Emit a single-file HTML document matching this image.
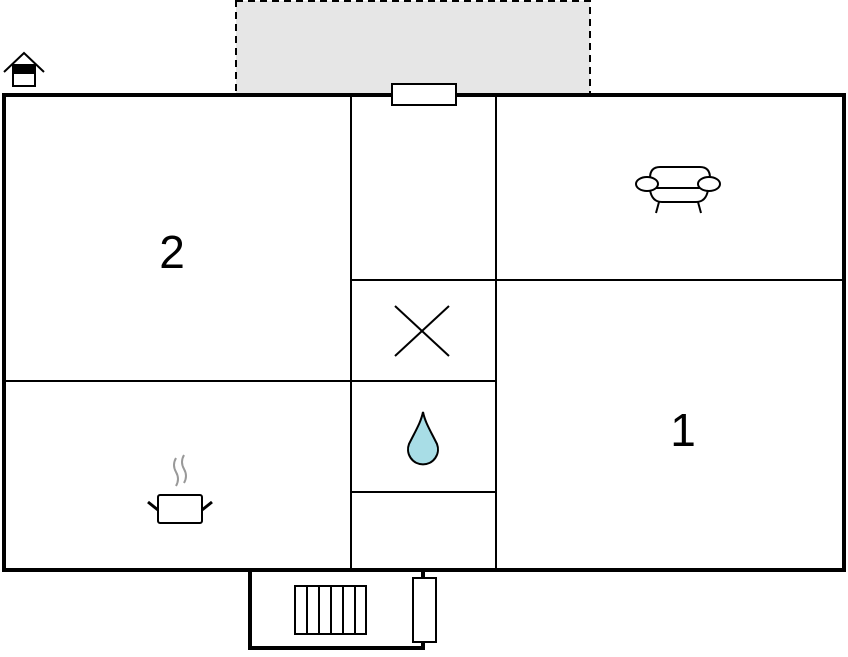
<!DOCTYPE html>
<html><head><style>body{margin:0;background:#fff}</style></head><body>
<svg width="848" height="652" viewBox="0 0 848 652" xmlns="http://www.w3.org/2000/svg">
<rect x="236" y="1" width="354" height="93" fill="#e6e6e6" stroke="#000" stroke-width="2" stroke-dasharray="7,5"/>
<g stroke="#000" fill="none">
<rect x="4" y="95" width="840" height="475" stroke-width="4" fill="#fff"/>
<g stroke-width="2">
<line x1="351" y1="95" x2="351" y2="570"/>
<line x1="496" y1="95" x2="496" y2="570"/>
<line x1="4" y1="381" x2="351" y2="381"/>
<line x1="351" y1="280" x2="844" y2="280"/>
<line x1="351" y1="381" x2="496" y2="381"/>
<line x1="351" y1="492" x2="496" y2="492"/>
<line x1="395" y1="306" x2="449" y2="356"/>
<line x1="449" y1="306" x2="395" y2="356"/>
</g>
<rect x="392" y="84" width="64" height="21" fill="#fff" stroke-width="2"/>
<path d="M250 570 V648 H423 V570" stroke-width="4"/>
<rect x="413" y="578" width="23" height="64" fill="#fff" stroke-width="2"/>
<g stroke-width="2"><rect x="295" y="586" width="71" height="48"/>
<line x1="307" y1="586" x2="307" y2="634"/><line x1="319" y1="586" x2="319" y2="634"/><line x1="331" y1="586" x2="331" y2="634"/><line x1="343" y1="586" x2="343" y2="634"/><line x1="355" y1="586" x2="355" y2="634"/></g>
<path d="M409 444 C416 430 421 422 423 412 C425 422 430 430 437 444 A15 15 0 1 1 409 444 Z" fill="#a8dde6" stroke-width="2"/>
<g stroke-width="2">
<path d="M650 178 Q650 167 660 167 H700 Q710 167 710 178"/>
<ellipse cx="647" cy="184" rx="11" ry="7" fill="#fff"/>
<ellipse cx="709" cy="184" rx="11" ry="7" fill="#fff"/>
<line x1="656" y1="188" x2="700" y2="188"/>
<path d="M650 190 Q652 202 662 202 H696 Q706 202 708 190"/>
<line x1="659" y1="202" x2="656" y2="213"/><line x1="698" y1="202" x2="701" y2="213"/>
<rect x="158" y="495" width="44" height="28" rx="2"/>
<line x1="148" y1="502" x2="158" y2="510" stroke-width="3"/>
<line x1="212" y1="502" x2="202" y2="510" stroke-width="3"/>
</g>
<path d="M176 458 Q172 465 176 472 Q180 479 176 486 M184 455 Q180 462 184 469 Q188 476 184 483" stroke="#999" stroke-width="2"/>
<path d="M4 72 L24 53 L44 72" stroke-width="2"/>
<rect x="13" y="65" width="22" height="21" stroke-width="2" fill="#fff"/>
<rect x="13" y="65" width="22" height="9" fill="#000" stroke="none"/>
</g>
<text x="172" y="268" font-family="Liberation Sans, sans-serif" font-size="46" text-anchor="middle">2</text>
<text x="683" y="446" font-family="Liberation Sans, sans-serif" font-size="46" text-anchor="middle">1</text>
</svg>
</body></html>
